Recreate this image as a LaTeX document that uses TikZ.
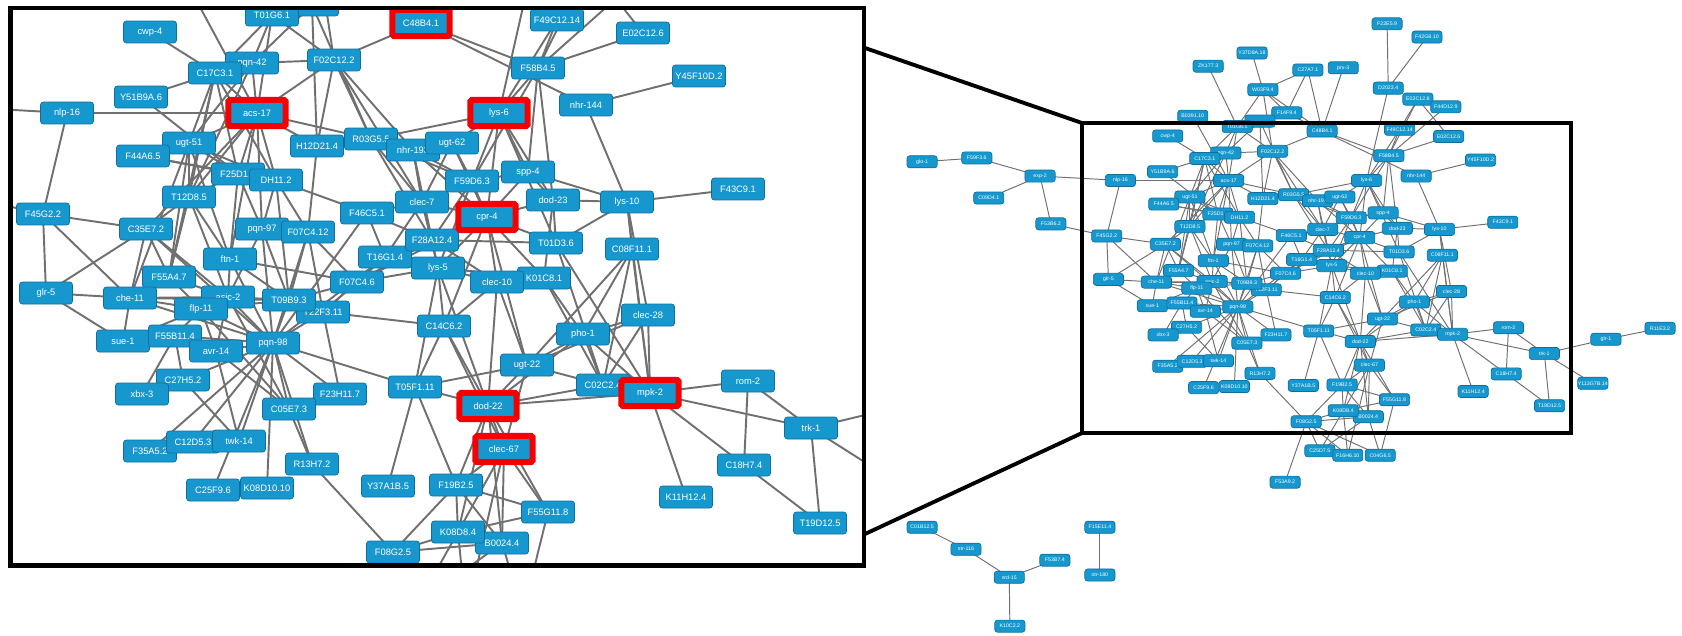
\documentclass[tikz,border=0pt]{standalone}
\usepackage{fontspec}
\setmainfont{Liberation Sans}
\usetikzlibrary{calc}

\definecolor{genefill}{RGB}{22,152,206}
\definecolor{geneline}{RGB}{16,110,158}
\definecolor{linkgray}{RGB}{112,112,112}
\definecolor{hired}{RGB}{245,0,0}

\tikzset{
  gene/.style={draw=geneline, line width=0.4pt, fill=genefill, text=white,
    rounded corners=1.6pt, minimum width=1.06cm, minimum height=0.44cm,
    inner sep=0pt, font=\fontsize{5.3}{6}\selectfont},
  link/.style={draw=linkgray},
  hilite/.style={draw=hired, line width=3.4pt, rounded corners=1pt},
  frame/.style={draw=black, line width=2.5pt},
  lens/.style={draw=black, line width=2.2pt},
}

% genes that only show in the full network: name/x/y/label
\def\farlist{glo1/-281/79/glo-1, F59F36/-185/72/F59F3.6, exp2/-74/105/exp-2,
C09D41/-164/145/C09D4.1, F53B62/-55/192/F53B6.2,
F22E59/535/-172/F22E5.9, F42G810/605/-148/F42G8.10, Y37D8A18/298/-119/Y37D8A.18,
ZK1773/221/-95/ZK177.3, C27A71/396/-88/C27A7.1, prx3/458/-92/prx-3,
W03F94/317/-52/W03F9.4, D20234/537/-55/D2023.4, E02C128/589/-35/E02C12.8,
F44D129/638/-21/F44D12.9, B039110/194/-4/B0391.10, F14F94/359/-10/F14F9.4,
R11E32/1014/382/R11E3.2, glr1/919/402/glr-1, Y113G7B14/896/482/Y113G7B.14,
C25D75/417/605/C25D7.5, F16H610/466/613/F16H6.10, C04G65/523/613/C04G6.5,
F53A92/356/662/F53A9.2,
C01B125/-281/744/C01B12.5, str116/-204/784/str-116, F53B74/-48/804/F53B7.4,
srd15/-128/835/srd-15, K10C22/-127/924/K10C2.2, F15E114/31/744/F15E11.4,
str180/31/831/str-180}

% genes inside the close-up (x,y in px of the close-up panel)
\def\nearlist{Xhid/312/5/{}, T01G61/272/15/T01G6.1, C48B41/421/23/C48B4.1,
F49C1214/557/20/F49C12.14, E02C126/643/33/E02C12.6, cwp4/150/32/cwp-4,
F02C122/334/60/F02C12.2, pqn42/252/63/pqn-42, C17C31/215/73/C17C3.1,
F58B45/538/68/F58B4.5, Y45F10D2/699/76/Y45F10D.2, Y51B9A6/141/97/Y51B9A.6,
nhr144/586/105/nhr-144, nlp16/67/113/nlp-16, acs17/257/113/acs-17,
lys6/499/113/lys-6, R03G55/371/139/R03G5.5, H12D214/317/146/H12D21.4,
nhr193/413/150/nhr-193, ugt62/452/143/ugt-62, ugt51/189/143/ugt-51,
F44A65/143/156/F44A6.5, F25D1/238/174/F25D1.1, DH112/276/180/DH11.2,
F59D63/472/181/F59D6.3, spp4/528/172/spp-4, F43C91/738/189/F43C9.1,
T12D85/189/197/T12D8.5, clec7/422/202/clec-7, dod23/553/200/dod-23,
lys10/627/202/lys-10, F46C51/367/213/F46C5.1, F45G22/43/214/F45G2.2,
C35E72/146/229/C35E7.2, pqn97/262/229/pqn-97, F07C412/308/232/F07C4.12,
T16G14/385/257/T16G1.4, F28A124/432/240/F28A12.4, cpr4/487/217/cpr-4,
T01D36/556/243/T01D3.6, C08F111/632/249/C08F11.1, ftn1/230/259/ftn-1,
lys5/438/268/lys-5, K01C81/544/278/K01C8.1, clec10/497/282/clec-10,
F07C46/357/282/F07C4.6, F55A47/169/277/F55A4.7, glr5/46/293/glr-5,
che11/130/298/che-11, asic2/228/297/asic-2, T22F311/323/312/T22F3.11,
T09B93/289/300/T09B9.3, flp11/201/309/flp-11, clec28/648/315/clec-28,
C14C62/444/326/C14C6.2, pho1/583/334/pho-1, sue1/123/341/sue-1,
F55B114/175/336/F55B11.4, avr14/216/351/avr-14, pqn98/273/343/pqn-98,
ugt22/527/365/ugt-22, C27H52/183/380/C27H5.2, xbx3/142/394/xbx-3,
rom2/748/381/rom-2, C02C24/603/385/C02C2.4, mpk2/650/393/mpk-2,
T05F111/415/387/T05F1.11, F23H117/340/394/F23H11.7, dod22/488/406/dod-22,
C05E73/289/409/C05E7.3, trk1/811/428/trk-1, F35A52/150/451/F35A5.2,
C12D53/193/442/C12D5.3, twk14/239/441/twk-14, clec67/504/449/clec-67,
R13H72/312/464/R13H7.2, C18H74/744/465/C18H7.4, Y37A1B5/388/486/Y37A1B.5,
F19B25/456/485/F19B2.5, C25F96/213/490/C25F9.6, K08D1010/267/488/K08D10.10,
K11H124/686/497/K11H12.4, F55G118/548/512/F55G11.8, T19D125/820/523/T19D12.5,
B00244/502/543/B0024.4, K08D84/458/532/K08D8.4, F08G25/393/552/F08G2.5}

% interactions
\def\linklist{glo1/F59F36, F59F36/exp2, exp2/C09D41, exp2/nlp16, exp2/F53B62, F53B62/F45G22,
F22E59/D20234, F42G810/D20234, D20234/lys6, E02C128/F58B45, E02C128/E02C126,
E02C128/F49C1214, F44D129/F58B45,
Y37D8A18/W03F94, ZK1773/T01G61, W03F94/C27A71, W03F94/F14F94, W03F94/C48B41,
W03F94/T01G61, W03F94/F02C122, C27A71/F14F94, C27A71/C48B41, prx3/C48B41,
F14F94/C48B41, B039110/acs17, Xhid/H12D214, Xhid/R03G55, Xhid/pqn42,
T01G61/pqn42, T01G61/C17C31, T01G61/acs17, T01G61/F02C122,
C48B41/F02C122, C48B41/F58B45, C48B41/nhr144,
F49C1214/F58B45, F49C1214/lys6, E02C126/F58B45,
nhr144/Y45F10D2, nhr144/lys10, F58B45/lys6, F58B45/spp4, F58B45/dod23, F58B45/F59D63,
cwp4/C17C31, Y51B9A6/C17C31, Y51B9A6/F25D1, nlp16/acs17, nlp16/F45G22,
pqn42/acs17, pqn42/ugt51, pqn42/F02C122, pqn42/T12D85,
C17C31/acs17, C17C31/ugt51, C17C31/T12D85, C17C31/F25D1, C17C31/DH112, C17C31/F55A47,
acs17/ugt51, acs17/T12D85, acs17/F25D1, acs17/DH112, acs17/H12D214, acs17/R03G55,
acs17/F02C122, acs17/C35E72, acs17/pqn97, acs17/ftn1,
ugt51/T12D85, ugt51/DH112, ugt51/F25D1, ugt51/ftn1, ugt51/F55A47, ugt51/che11,
F44A65/F25D1, F44A65/DH112, F25D1/T12D85, F25D1/pqn97, F25D1/ftn1,
DH112/F46C51, DH112/pqn97, DH112/F07C412, DH112/T09B93,
T12D85/C35E72, T12D85/ftn1, T12D85/F55A47, T12D85/asic2,
H12D214/F07C412, H12D214/F02C122,
F02C122/R03G55, F02C122/clec7, F02C122/nhr193,
R03G55/nhr193, R03G55/lys6, R03G55/F28A124, R03G55/clec7, R03G55/F59D63,
nhr193/F59D63, nhr193/clec7, nhr193/cpr4, nhr193/F28A124,
ugt62/lys6, ugt62/F59D63, ugt62/cpr4, ugt62/clec7,
lys6/F59D63, lys6/spp4, lys6/cpr4, lys6/dod23, lys6/T01D36,
spp4/lys10, spp4/cpr4, spp4/F59D63, spp4/dod23,
F59D63/cpr4, F59D63/clec7, F59D63/F28A124, F59D63/lys5,
clec7/cpr4, clec7/F28A124, clec7/lys5, clec7/T16G14,
dod23/lys10, dod23/cpr4, dod23/T01D36, dod23/K01C81,
cpr4/F28A124, cpr4/T01D36, cpr4/lys5, cpr4/clec10, cpr4/K01C81, cpr4/C14C62,
cpr4/ugt22, cpr4/T16G14, cpr4/F07C46,
T01D36/lys10, T01D36/mpk2, T01D36/F28A124, T01D36/C02C24,
K01C81/lys5, K01C81/C02C24, K01C81/pho1,
C08F111/lys10, C08F111/pho1, C08F111/C02C24, C08F111/mpk2, C08F111/ugt22,
lys10/clec28, lys10/mpk2, F43C91/lys10,
clec28/pho1, clec28/C02C24, clec28/mpk2, clec28/ugt22,
pho1/C02C24, pho1/mpk2, pho1/ugt22, pho1/dod22,
C02C24/mpk2, C02C24/ugt22, C02C24/dod22,
mpk2/rom2, mpk2/trk1, mpk2/C18H74, mpk2/K11H124, mpk2/dod22,
rom2/C18H74, rom2/trk1, trk1/T19D125, trk1/glr1, trk1/Y113G7B14, glr1/R11E32,
C18H74/T19D125,
F46C51/F28A124, F46C51/T16G14, F46C51/pqn98, F46C51/clec7,
F07C412/T09B93, F07C412/F07C46, F07C412/T22F311, F07C412/pqn98,
pqn97/T09B93, pqn97/pqn98, pqn97/asic2,
ftn1/asic2, ftn1/T09B93, ftn1/F07C46, ftn1/pqn98,
T16G14/F28A124, T16G14/lys5, T16G14/pqn98, T16G14/T22F311,
F28A124/lys5, F28A124/F07C46, F28A124/clec10,
lys5/F07C46, lys5/C14C62, lys5/clec10, lys5/T05F111, lys5/dod22,
clec10/dod22, clec10/ugt22, clec10/C14C62,
F07C46/T22F311, F07C46/T09B93,
F55A47/che11, F55A47/asic2, F55A47/flp11,
glr5/F45G22, glr5/che11, glr5/C35E72, glr5/sue1,
F45G22/C35E72, F45G22/che11,
C35E72/che11, C35E72/F55A47, C35E72/asic2, C35E72/pqn98,
che11/sue1, che11/asic2, che11/flp11, che11/pqn98, che11/T09B93,
asic2/flp11, asic2/T09B93, asic2/pqn98, asic2/avr14,
T09B93/pqn98, T09B93/T22F311, T09B93/flp11,
flp11/pqn98, flp11/avr14, flp11/F55B114,
T22F311/C14C62, T22F311/pqn98, T22F311/F23H117,
sue1/F55B114, sue1/flp11,
F55B114/pqn98, F55B114/avr14, F55B114/xbx3, F55B114/C27H52,
avr14/pqn98, avr14/twk14,
pqn98/C27H52, pqn98/C05E73, pqn98/F23H117, pqn98/T05F111, pqn98/F35A52,
pqn98/C12D53, pqn98/twk14, pqn98/C25F96, pqn98/K08D1010, pqn98/R13H72,
C27H52/twk14,
C05E73/R13H72, C05E73/flp11, C05E73/avr14, C05E73/asic2,
R13H72/F08G25,
C14C62/dod22, C14C62/T05F111, C14C62/clec67,
ugt22/dod22, ugt22/clec67, ugt22/T05F111,
T05F111/dod22, T05F111/Y37A1B5, T05F111/F19B25,
dod22/clec67, dod22/F19B25, dod22/K08D84, dod22/F55G118, dod22/B00244,
clec67/F19B25, clec67/K08D84, clec67/B00244, clec67/F55G118, clec67/F16H610,
F19B25/F55G118, F19B25/K08D84, F19B25/B00244, F19B25/F08G25,
K08D84/F55G118, K08D84/B00244, K08D84/F08G25, K08D84/C25D75, K08D84/F16H610,
B00244/F08G25, B00244/C04G65, B00244/C25D75,
F55G118/C04G65,
F08G25/F53A92, F08G25/C25D75, F08G25/F16H610, F08G25/C04G65,
C01B125/str116, str116/srd15, srd15/F53B74, srd15/K10C22, F15E114/str180}

% boxes for the genes of \farlist
\newcommand{\farnodes}[1]{%
  \foreach \n/\x/\y/\lbl in \farlist {\node[gene] (#1-\n) at (#1-\n-c) {\lbl};}
}

% the network, node names get prefix #1, #2 = extra boxes under the near ones
\newcommand{\genenet}[2]{%
  \foreach \n/\x/\y/\lbl in \farlist {\coordinate (#1-\n-c) at (\x,\y);}
  \foreach \n/\x/\y/\lbl in \nearlist {\coordinate (#1-\n-c) at (\x,\y);}
  \foreach \p/\q in \linklist {\draw[link] (#1-\p-c) -- (#1-\q-c);}
  #2
  \foreach \n/\x/\y/\lbl in \nearlist {\node[gene] (#1-\n) at (#1-\n-c) {\lbl};}
}

\begin{document}
\begin{tikzpicture}[x=0.02cm, y=-0.02cm]
    %%%%% START %%%%%
    \useasboundingbox (0,0) rectangle (1682,635);

    % close-up panel
    \begin{scope}
        \clip (10.5,8) rectangle (864,565.5);
        \begin{scope}[line width=1.1pt]
            \genenet{L}{}
            \foreach \n in {C48B41,acs17,lys6,cpr4,dod22,clec67,mpk2}
                \draw[hilite] ($(L-\n.south west)+(-1.8,1.8)$) rectangle ($(L-\n.north east)+(1.8,-1.8)$);
        \end{scope}
    \end{scope}
    \draw[frame] (10.5,8) rectangle (864,565.5);

    % full network
    \begin{scope}[shift={(1109,131)}, xscale=0.5698, yscale=0.5495, shift={(-47,-23)},
                  transform shape, line width=0.55pt]
        \genenet{R}{\farnodes{R}}
    \end{scope}

    \coordinate (view-nw) at (1082,123);
    \coordinate (view-se) at (1571,433);
    \coordinate (lens-top) at (865,48);
    \coordinate (lens-bot) at (865,534);
    \draw[lens] (view-nw) rectangle (view-se);
    \draw[lens] (lens-top) -- (view-nw);
    \draw[lens] (lens-bot) -- (view-nw |- view-se);
    %%%%% END %%%%%
\end{tikzpicture}
\end{document}
